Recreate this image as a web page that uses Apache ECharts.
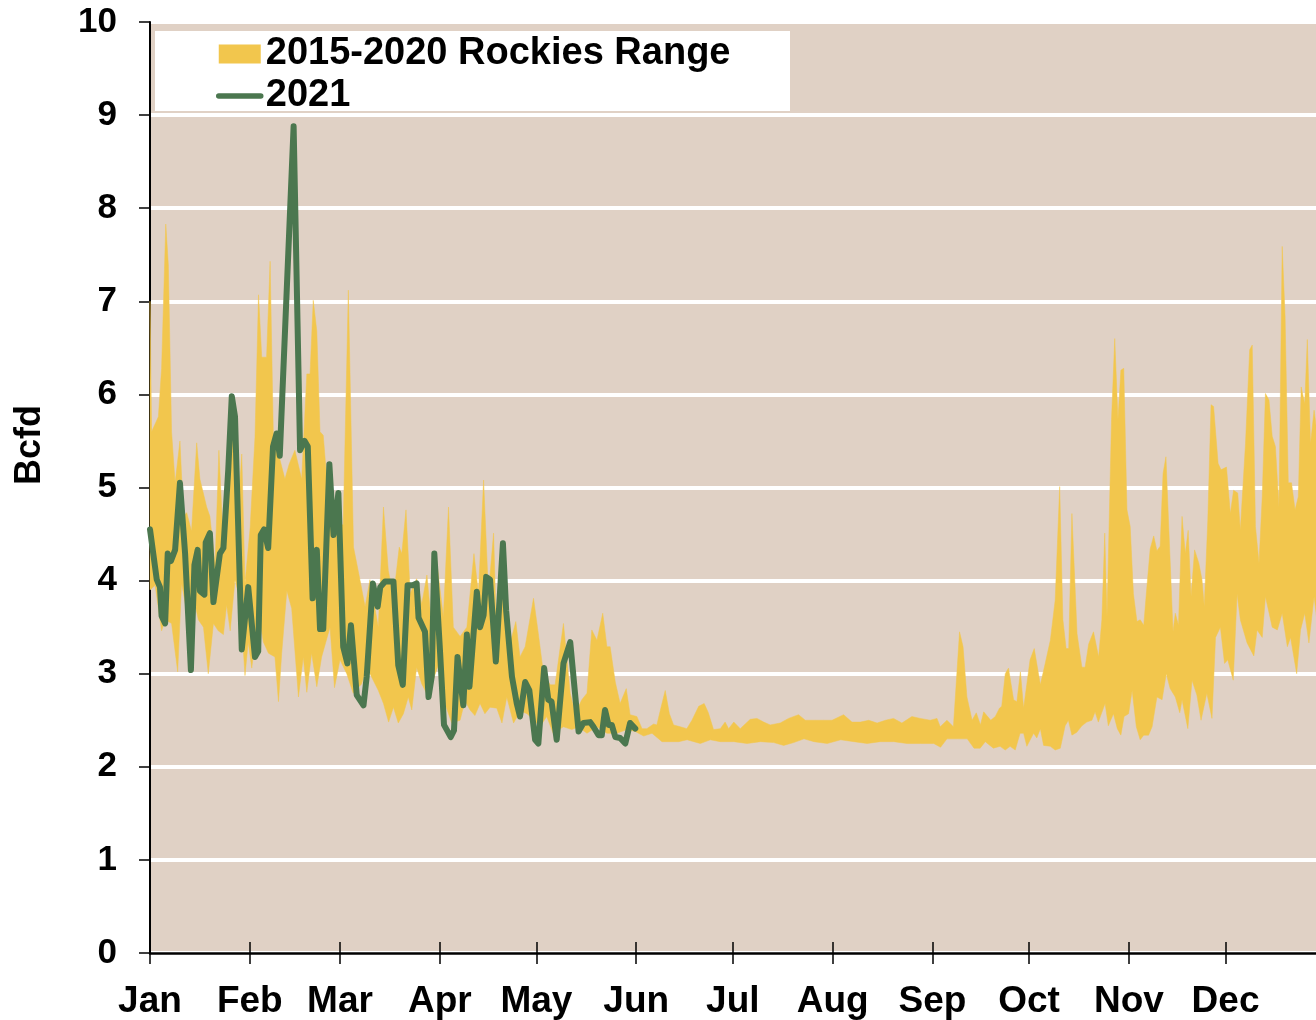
<!DOCTYPE html>
<html><head><meta charset="utf-8">
<script src="https://cdn.jsdelivr.net/npm/echarts@6/dist/echarts.min.js"></script>
<style>html,body{margin:0;padding:0;background:#fff}#c{width:1316px;height:1020px}</style>
</head><body><div id="c"></div>
<script>
const monthLabels = ['Jan','Feb','Mar','Apr','May','Jun','Jul','Aug','Sep','Oct','Nov','Dec'];
const monthStartDays = [0,31,59,90,120,151,181,212,243,273,304,334];
const yTickValues = [0,1,2,3,4,5,6,7,8,9,10];
const rangeName = '2015-2020 Rockies Range';
const lineName = '2021';

// [day of year, Bcfd] upper edge of 2015-2020 range
const rangeMax = [
[0,7.0],[0.5,5.6],[2.6,5.76],[3.6,6.28],[4.9,7.83],[5.7,7.39],[6.7,5.60],[7.8,5.05],[9.3,5.50],[10.4,4.69],[11.4,4.73],[12.9,4.53],[14.5,5.48],[15.5,5.09],[17.6,4.79],[18.6,4.69],[20.2,4.17],[21.4,5.40],[22.8,4.37],[24.3,5.25],[25.6,5.92],[26.9,4.53],[28.5,5.36],[29.5,3.97],[31.1,4.57],[32.6,5.54],[33.7,7.07],[34.7,6.40],[36.2,6.40],[37.3,7.43],[38.3,5.56],[39.9,5.36],[41.9,5.09],[43.2,5.25],[45.0,5.40],[47.1,5.09],[48.7,6.22],[49.7,6.22],[50.7,7.01],[51.8,6.68],[52.8,5.60],[53.8,5.56],[54.9,5.09],[56.4,4.57],[58.0,4.60],
[60.0,4.60],[61.6,7.12],[63.2,4.36],[65.2,4.01],[66.8,3.72],[68.3,4.01],[70.9,3.50],[72.5,4.79],[74.0,4.11],[75.6,3.82],[77.4,4.36],[78.2,4.29],[79.5,4.76],[80.8,3.86],[82.8,4.02],[84.4,3.75],[86.0,4.06],[87.5,3.50],[89.0,4.22],[91.1,3.61],[92.7,4.79],[94.2,3.50],[96.3,3.40],[98.4,3.50],[100.6,4.29],[102.0,3.86],[103.6,5.08],[105.1,3.86],[106.7,4.51],[107.7,3.32],[109.8,4.04],[111.8,3.32],[113.6,3.56],
[114.9,3.18],[116.5,3.29],[119.1,3.81],[120.6,3.43],[122.2,3.00],[124.3,2.88],[125.8,2.88],[128.4,3.54],[130.5,2.79],[132.0,2.57],[134.1,2.72],[135.7,2.79],[137.2,3.47],[138.8,3.36],[140.6,3.65],[141.9,3.29],[142.9,3.29],[144.5,2.91],[146.0,2.68],[147.9,2.84],[149.1,2.56],[151.2,2.54],[152.8,2.41],[154.3,2.41],[156.4,2.46],[157.4,2.45],[158.5,2.61],[160.0,2.82],[161.3,2.57],[162.6,2.45],[164.7,2.43],[166.7,2.41],[168.3,2.50],[170.4,2.65],
[172.1,2.68],[173.4,2.58],[175.0,2.40],[177.1,2.41],[178.6,2.48],[179.7,2.41],[181.3,2.48],[183.3,2.41],[186.4,2.51],[188.5,2.52],[190.6,2.48],[192.6,2.45],[195.7,2.47],[198.3,2.52],[201.4,2.56],[203.5,2.50],[206.6,2.50],[209.2,2.50],[211.8,2.50],[215.4,2.56],[218.0,2.48],[220.6,2.48],[223.2,2.50],[225.8,2.47],[228.4,2.50],[230.9,2.52],[233.5,2.47],[236.6,2.54],[239.2,2.52],[242.3,2.50],[244.4,2.52],[245.4,2.43],[247.5,2.50],[249.5,2.43],[251.4,3.45],[252.5,3.29],[253.7,2.75],[255.3,2.50],[256.6,2.58],[257.9,2.45],[258.9,2.59],[261.1,2.50],
[262.5,2.54],[263.8,2.63],[264.5,2.65],[265.6,3.00],[266.6,3.06],[268.2,2.72],[269.2,2.70],[270.3,3.02],[271.3,2.63],[273.3,3.15],[274.6,3.27],[276.5,2.88],[278.0,3.11],[279.6,3.36],[281.1,3.79],[282.5,5.01],[283.5,3.58],[284.5,3.27],[285.3,3.27],[286.3,4.72],[287.9,3.43],[289.4,3.07],[290.4,3.07],[291.5,3.32],[293.0,3.45],[294.6,3.18],[295.6,3.58],[296.5,4.51],[297.2,3.61],[298.6,5.73],[299.6,6.60],[300.6,5.73],[301.5,6.26],[302.4,6.28],[303.4,4.76],[304.4,4.58],[305.4,3.86],[306.5,3.56],[307.5,3.58],[308.6,3.52],[309.6,3.94],[310.6,4.34],[311.7,4.48],[312.7,4.32],[313.7,4.37],[314.6,5.15],[315.5,5.33],[316.7,4.30],[317.7,3.45],[318.4,3.65],[319.4,3.52],
[320.5,4.69],[321.5,4.29],[322.4,4.54],[323.3,3.83],[324.4,4.33],[325.7,4.19],[326.7,4.01],[327.4,3.72],[328.5,4.65],[329.5,5.89],[330.3,5.87],[331.7,5.26],[332.6,5.19],[334.3,5.22],[335.5,4.72],[336.5,4.97],[337.8,4.94],[338.6,4.54],[340.2,5.47],[341.5,6.48],[342.3,6.53],[343.3,4.58],[344.4,4.19],[345.4,4.90],[346.4,6.01],[347.5,5.94],[348.5,5.55],[349.5,5.44],[350.6,4.79],[351.6,7.59],[352.5,6.84],[353.5,5.05],[354.5,5.05],[355.6,4.76],[356.6,4.90],[357.5,6.08],[358.6,5.90],[359.4,6.59],[360.4,5.47],[361.5,5.83],[362.3,5.62]
];

// [day of year, Bcfd] lower edge of 2015-2020 range
const rangeMin = [
[0,3.90],[1.6,3.95],[3.6,3.46],[4.7,3.58],[6.7,3.54],[8.6,3.02],[9.8,3.97],[11.9,3.58],[13.8,3.78],[15.0,3.58],[16.6,3.50],[18.1,3.00],[19.7,3.54],[21.2,3.46],[22.8,3.42],[23.8,3.74],[24.9,3.46],[26.4,4.01],[28.0,3.78],[29.5,2.98],[30.5,3.34],[31.6,3.06],[33.7,3.66],[35.2,3.34],[36.8,3.22],[38.8,3.18],[39.9,2.70],[40.9,3.22],[42.5,3.89],[44.0,3.70],[46.1,2.75],[47.6,3.18],[48.7,2.80],[50.2,3.22],[51.8,2.86],[53.3,3.18],[55.9,3.50],[57.3,2.85],[59.0,3.15],
[61.1,3.00],[63.1,2.79],[65.7,2.89],[67.3,3.07],[70.9,2.82],[72.5,2.68],[74.1,2.48],[75.6,2.64],[77.1,2.47],[78.7,2.57],[80.2,2.75],[81.3,2.61],[82.8,3.07],[84.4,2.89],[85.9,2.79],[87.5,2.89],[90.1,3.15],[91.6,2.68],[93.7,2.47],[96.3,2.50],[97.8,2.71],[99.4,2.61],[100.9,2.55],[102.5,2.68],[104.0,2.57],[105.6,2.64],[107.7,2.63],[109.3,2.47],[110.8,2.75],[112.9,2.47],[115.0,2.60],[117.1,2.57],[119.2,2.50],
[121.1,2.43],[123.2,2.54],[125.2,2.36],[128.4,2.43],[131.0,2.40],[133.0,2.43],[135.7,2.36],[138.8,2.43],[141.9,2.36],[145.0,2.36],[148.1,2.40],[150.7,2.38],[153.3,2.33],[155.9,2.36],[159.0,2.27],[161.6,2.27],[164.2,2.27],[166.8,2.29],[168.9,2.27],
[170.9,2.25],[174.0,2.29],[177.1,2.27],[181.3,2.27],[185.4,2.25],[189.6,2.27],[193.7,2.26],[196.8,2.23],[199.9,2.26],[203.1,2.30],[206.2,2.27],[210.3,2.25],[214.5,2.29],[218.6,2.27],[222.7,2.25],[226.8,2.27],[231.0,2.27],[235.1,2.25],[239.3,2.25],[243.4,2.25],[245.5,2.21],[247.5,2.30],[250.7,2.30],[253.8,2.30],[255.9,2.20],
[257.8,2.20],[259.4,2.27],[261.9,2.20],[264.0,2.22],[265.6,2.18],[267.1,2.22],[268.7,2.18],[270.2,2.36],[271.3,2.36],[272.3,2.22],[274.4,2.36],[275.4,2.31],[276.5,2.41],[277.5,2.23],[279.6,2.22],[281.1,2.18],[282.7,2.20],[284.2,2.44],[285.2,2.50],[286.3,2.34],[287.8,2.37],[289.4,2.44],[290.9,2.48],[292.5,2.50],[293.5,2.59],[294.5,2.48],[296.6,2.68],[297.6,2.44],[299.2,2.57],[300.4,2.41],[301.5,2.34],[302.5,2.54],[303.9,2.57],[305.0,2.82],[306.3,2.43],[307.5,2.29],[308.6,2.34],[310.1,2.34],
[311.2,2.43],[312.7,2.75],[314.3,2.72],[315.6,3.00],[316.8,2.84],[318.4,2.75],[319.8,2.58],[320.5,2.72],[322.3,2.41],[323.6,2.93],[325.1,2.77],[326.4,2.50],[328.2,2.79],[329.8,2.52],[330.9,3.39],[332.4,3.50],[333.7,3.11],[334.7,3.15],[336.4,2.93],[337.6,3.86],[338.6,3.58],[340.7,3.33],[342.8,3.19],[343.8,3.47],[345.4,3.39],[346.4,3.83],[348.5,3.50],[350.1,3.47],[351.6,3.65],[353.2,3.29],[354.2,3.39],[356.1,3.00],[357.3,3.47],[358.6,3.65],[359.9,3.33],[361.5,3.83],[362.3,3.60]
];

// [day of year, Bcfd] 2021
const flow2021 = [
[0,4.55],[2.1,4.01],[3.1,3.93],[3.6,3.62],[4.7,3.54],[5.5,4.29],[6.5,4.21],[7.8,4.33],[9.3,5.05],[10.9,4.29],[12.7,3.04],[13.8,4.17],[14.8,4.33],[15.5,3.89],[16.9,3.85],[17.3,4.41],[18.6,4.51],[19.7,3.77],[21.7,4.29],[22.8,4.35],[24.3,5.19],[25.4,5.98],[26.4,5.76],[28.5,3.26],[30.5,3.93],[32.6,3.18],[33.6,3.24],[34.4,4.49],[35.4,4.55],[36.7,4.35],[38.2,5.44],[39.3,5.58],[40.3,5.34],[44.6,8.88],[46.6,5.40],[48.0,5.50],[49.0,5.44],[50.5,3.81],[51.8,4.33],[52.8,3.48],[53.8,3.48],[55.7,5.25],[57.0,4.49],[58.5,4.94],
[60.0,3.29],[61.3,3.11],[62.4,3.52],[64.2,2.77],[66.3,2.66],[67.3,2.97],[69.2,3.97],[70.7,3.72],[71.5,3.93],[73.0,3.99],[75.6,3.99],[77.1,3.09],[78.5,2.88],[80.0,3.95],[81.6,3.95],[82.8,3.97],[83.4,3.60],[85.4,3.45],[86.5,2.75],[87.5,2.97],[88.3,4.29],[90.1,3.22],[91.3,2.45],[93.4,2.32],[94.4,2.39],[95.5,3.18],[97.3,2.66],[98.4,3.42],[99.2,2.86],[101.5,3.88],[102.5,3.50],[103.6,3.63],[104.4,4.04],[105.6,4.01],[107.4,3.13],[109.6,4.40],[110.6,3.68],[112.4,2.97],[113.9,2.68],
[114.9,2.54],[116.5,2.91],[117.8,2.82],[119.6,2.29],[120.6,2.25],[122.4,3.06],[123.7,2.72],[124.7,2.70],[126.3,2.29],[128.4,3.11],[130.5,3.34],[133.1,2.38],[134.6,2.47],[136.7,2.48],[137.7,2.43],[139.3,2.34],[140.3,2.34],[141.3,2.61],[142.4,2.45],[143.4,2.45],[144.5,2.32],[146.0,2.31],[147.6,2.25],[149.1,2.47],[150.7,2.41]
];

const COL_BG = '#e0d1c5', COL_RANGE = '#f2c64d', COL_LINE = '#4b774f';
const FONT = 'Liberation Sans, Arial, sans-serif';
const X_END = 362.1; // visible end of the year at the right edge of the picture

const chart = echarts.init(document.getElementById('c'), null, {renderer: 'canvas'});
const xBase = {
  type: 'value', min: 0, max: X_END, gridIndex: 0, position: 'bottom',
  splitLine: {show: false}
};
chart.setOption({
  animation: false,
  backgroundColor: '#ffffff',
  grid: {left: 150, top: 22, right: 0, bottom: 67, show: true, backgroundColor: COL_BG, borderWidth: 0},
  legend: {
    orient: 'vertical', left: 216, top: 31, z: 20,
    backgroundColor: 'transparent', padding: [3, 0, 0, 0],
    itemWidth: 42, itemHeight: 19, itemGap: 2,
    textStyle: {fontFamily: FONT, fontWeight: 'bold', fontSize: 38, color: '#000', lineHeight: 40},
    data: [
      {name: rangeName, icon: 'rect'},
      {name: lineName, itemStyle: {opacity: 0}, lineStyle: {width: 5.5, color: COL_LINE, cap: 'round'}}
    ]
  },
  xAxis: [
    Object.assign({}, xBase, {
      axisLine: {show: true, lineStyle: {color: '#000', width: 2.5}},
      axisTick: {show: true, inside: false, length: 11, customValues: monthStartDays, lineStyle: {color: '#000', width: 1.5}},
      axisLabel: {
        show: true, customValues: monthStartDays, margin: 30,
        fontFamily: FONT, fontWeight: 'bold', fontSize: 37, color: '#000',
        formatter: function (v) { const i = monthStartDays.indexOf(v); return i >= 0 ? monthLabels[i] : ''; }
      }
    }),
    Object.assign({}, xBase, {
      axisLine: {show: false},
      axisTick: {show: true, inside: true, length: 11, customValues: monthStartDays, lineStyle: {color: '#000', width: 1.5}},
      axisLabel: {show: false}
    })
  ],
  yAxis: {
    type: 'value', min: 0, max: 10, interval: 1,
    axisLine: {show: true, lineStyle: {color: '#000', width: 2}},
    axisTick: {show: true, length: 11, lineStyle: {color: '#000', width: 1.5}},
    axisLabel: {margin: 33, fontFamily: FONT, fontWeight: 'bold', fontSize: 35, color: '#000',
      formatter: function (v) { return yTickValues.indexOf(v) >= 0 ? String(v) : ''; }},
    splitLine: {show: true, lineStyle: {color: '#ffffff', width: 4}}
  },
  graphic: [
    {type: 'rect', z: 15, silent: true, shape: {x: 155, y: 31, width: 635, height: 80}, style: {fill: '#ffffff'}},
    {type: 'text', x: 30, y: 445, rotation: Math.PI / 2,
     style: {text: 'Bcfd', font: 'bold 36px ' + FONT, fill: '#000', align: 'center', verticalAlign: 'middle'}}
  ],
  series: [
    {
      name: rangeName, type: 'custom', xAxisIndex: 0, yAxisIndex: 0,
      data: rangeMax, encode: {x: 0, y: 1},
      itemStyle: {color: COL_RANGE}, silent: true, z: 2,
      renderItem: function (params, api) {
        if (params.dataIndex !== 0) return null;
        const pts = [];
        for (let i = 0; i < rangeMax.length; i++) pts.push(api.coord(rangeMax[i]));
        for (let i = rangeMin.length - 1; i >= 0; i--) pts.push(api.coord(rangeMin[i]));
        return {type: 'polygon', shape: {points: pts}, style: {fill: COL_RANGE, stroke: COL_RANGE, lineWidth: 0.5}};
      }
    },
    {
      name: lineName, type: 'line', xAxisIndex: 0, yAxisIndex: 0,
      data: flow2021, showSymbol: false, symbol: 'none', z: 3,
      lineStyle: {color: COL_LINE, width: 6, join: 'round', cap: 'round'},
      itemStyle: {color: COL_LINE}
    }
  ]
});
</script></body></html>
